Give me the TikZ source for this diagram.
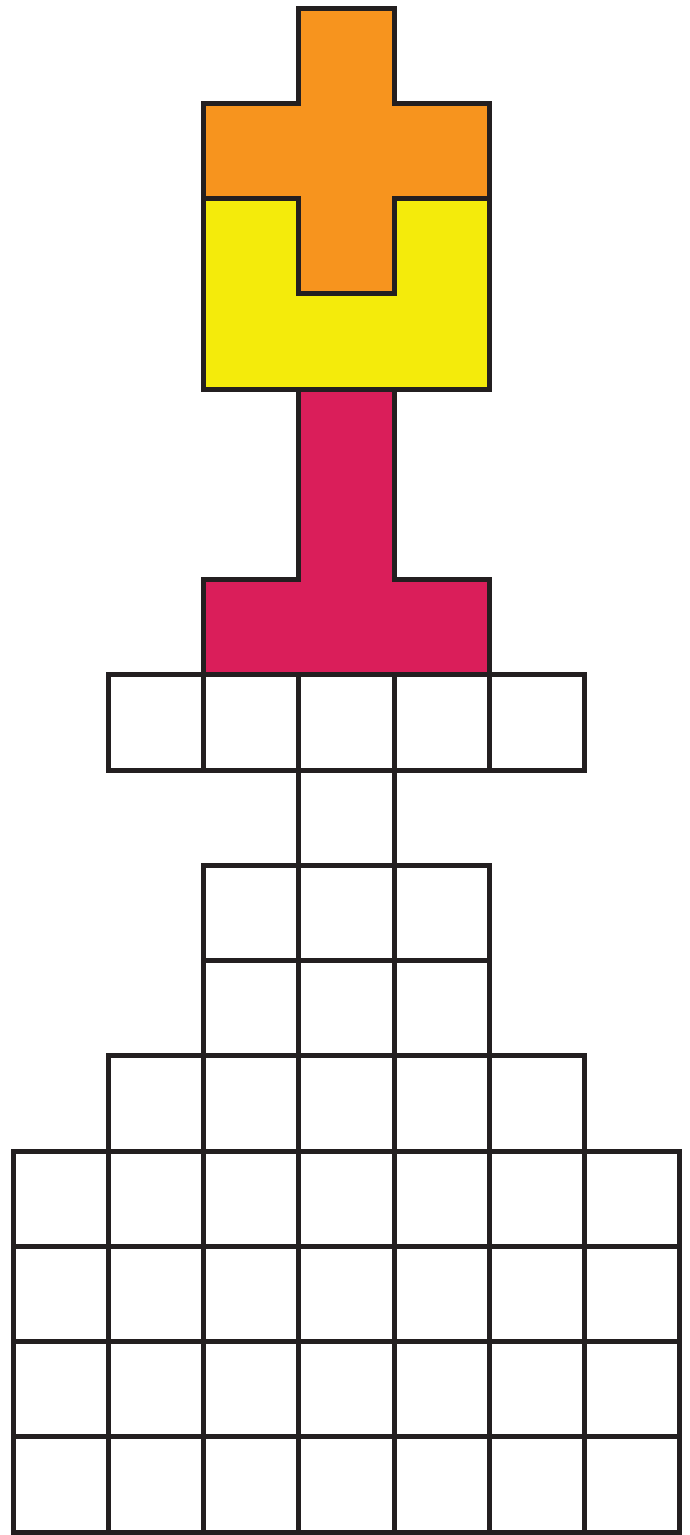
\documentclass[tikz,border=0pt]{standalone}
\definecolor{pieceorange}{HTML}{F7941E}
\definecolor{pieceyellow}{HTML}{F4EB0B}
\definecolor{piecered}{HTML}{DA1E5A}
\definecolor{edge}{HTML}{231F20}
\tikzset{
  outline/.style={draw=edge,line width=5pt,line join=miter},
  cell/.style={outline}
}
\begin{document}
\begin{tikzpicture}[x=95.25pt,y=-95.25pt]
\useasboundingbox (-0.1365,-0.084) rectangle (7.1076,16.0315);
% coloured pieces
\draw[outline,fill=pieceorange] (3,0)--(4,0)--(4,1)--(5,1)--(5,2)--(4,2)--(4,3)--(3,3)--(3,2)--(2,2)--(2,1)--(3,1)--cycle;
\draw[outline,fill=pieceyellow] (2,2)--(3,2)--(3,3)--(4,3)--(4,2)--(5,2)--(5,4)--(2,4)--cycle;
\draw[outline,fill=piecered] (3,4)--(4,4)--(4,6)--(5,6)--(5,7)--(2,7)--(2,6)--(3,6)--cycle;
% grid
\foreach \i in {1,...,5} \draw[cell] (\i,7) rectangle ++(1,1);
\draw[cell] (3,8) rectangle ++(1,1);
\foreach \r in {9,10} \foreach \i in {2,3,4} \draw[cell] (\i,\r) rectangle ++(1,1);
\foreach \i in {1,...,5} \draw[cell] (\i,11) rectangle ++(1,1);
\foreach \r in {12,...,15} \foreach \i in {0,...,6} \draw[cell] (\i,\r) rectangle ++(1,1);
\end{tikzpicture}
\end{document}
